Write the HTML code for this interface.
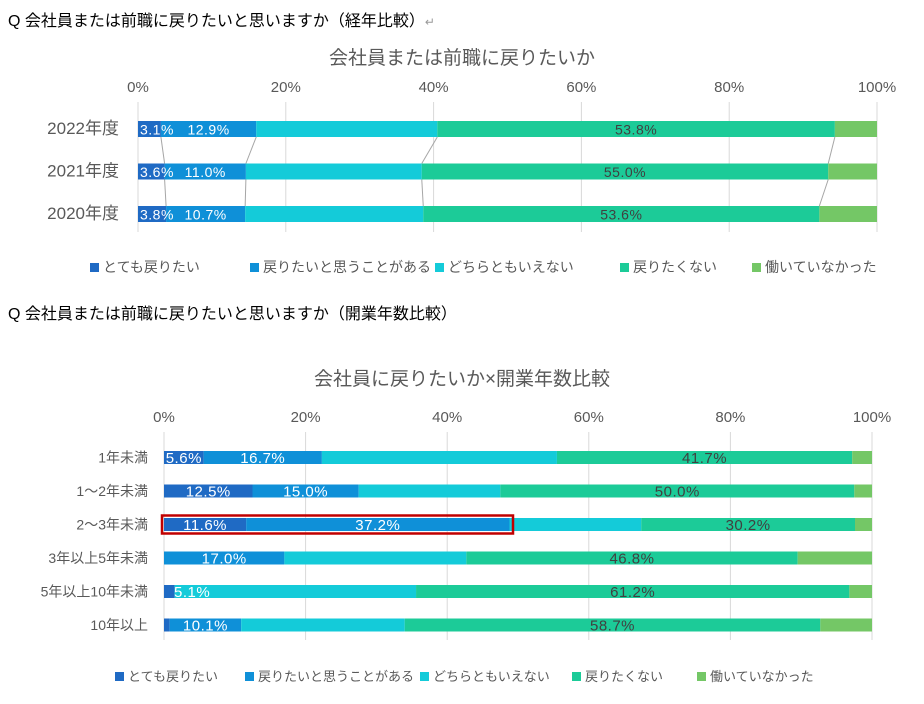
<!DOCTYPE html>
<html><head><meta charset="utf-8"><style>
body{margin:0;background:#fff;width:924px;height:699px;overflow:hidden;font-family:"Liberation Sans","Noto Sans CJK JP",sans-serif}
svg text{font-family:"Liberation Sans","Noto Sans CJK JP",sans-serif}
</style></head><body>
<svg id="s" width="924" height="699">
<text x="8" y="26" font-size="16" fill="#000">Q  会社員または前職に戻りたいと思いますか（経年比較）<tspan fill="#999" font-size="12">↵</tspan></text>
<text x="462" y="64" font-size="19" fill="#595959" text-anchor="middle">会社員または前職に戻りたいか</text>
<text x="8" y="319" font-size="16" fill="#000">Q  会社員または前職に戻りたいと思いますか（開業年数比較）</text>
<text x="462" y="385" font-size="19" fill="#595959" text-anchor="middle">会社員に戻りたいか×開業年数比較</text>
<g id="c1"></g><g id="c2"></g>
</svg>
<script>
const series=["とても戻りたい","戻りたいと思うことがある","どちらともいえない","戻りたくない","働いていなかった"];
const colors=["#1f6ac4","#0f90d8","#14cbd9","#1ccb98","#74c766"];
const ticks=["0%","20%","40%","60%","80%","100%"];
const tickVals=[0,20,40,60,80,100];
const cat1=["2022年度","2021年度","2020年度"];
const c1v0=[3.1,3.6,3.8];
const c1v1=[12.9,11.0,10.7];
const c1v2=[24.5,23.8,24.1];
const c1v3=[53.8,55.0,53.6];
const c1v4=[5.7,6.6,7.8];
const cat2=["1年未満","1～2年未満","2～3年未満","3年以上5年未満","5年以上10年未満","10年以上"];
const c2v0=[5.6,12.5,11.6,0,1.5,0.8];
const c2v1=[16.7,15.0,37.2,17.0,0,10.1];
const c2v2=[33.2,20.0,18.6,25.7,34.1,23.1];
const c2v3=[41.7,50.0,30.2,46.8,61.2,58.7];
const c2v4=[2.8,2.5,2.4,10.5,3.2,7.3];
const c2lab0=["5.6%","12.5%","11.6%","","5.1%",""];
const NS="http://www.w3.org/2000/svg";
function mk(p,t,a){const e=document.createElementNS(NS,t);for(const k in a)e.setAttribute(k,a[k]);p.appendChild(e);return e;}
function draw(g,cfg){
 const X=v=>cfg.x0+v/100*(cfg.x1-cfg.x0);
 const Y=i=>cfg.y0+i*cfg.step;
 const pending=[];
 tickVals.forEach((v,i)=>{
  const l=mk(g,"line",{x1:X(v),x2:X(v),y1:cfg.gTop,y2:cfg.gBot,stroke:"#d9d9d9"});
  
  
  const t=mk(g,"text",{x:X(v),y:cfg.tickY,"font-size":15,fill:"#595959","text-anchor":"middle"});t.textContent=ticks[i];
  
  
 });
 cfg.cats.forEach((c,i)=>{
  const t=mk(g,"text",{x:cfg.catX,y:Y(i)+cfg.bh/2+5,"font-size":cfg.catFs,fill:"#595959","text-anchor":"end"});t.textContent=c;
  
  
  let acc=0;
  cfg.vals.forEach((arr,s)=>{
   const v=arr[i];
   const r=mk(g,"rect",{x:X(acc),y:Y(i),width:X(acc+v)-X(acc),height:cfg.bh,fill:colors[s]});
   
   
   let lab=cfg.labels(s,i,v);
   if(s===4) lab="";
   if(lab){
    let cx=X(acc+v/2), anchor="middle";
    const tw=lab.length*cfg.lfs*0.56;
    if(s===0 && X(acc+v)-X(acc)<tw+4){cx=X(0)+2+(cfg.pad||0);anchor="start";}
    if(s===1 && cfg.shift1) cx=Math.max(cx,cfg.shift1(i,X));
    pending.push({x:cx,y:Y(i)+cfg.bh/2+cfg.lfs*0.38,fill:s<2?"#fff":"#404040",anchor,lab});
   }
   acc+=v;
  });
 });
 pending.forEach(p=>{
  const tt=mk(g,"text",{x:p.x,y:p.y,"font-size":cfg.lfs,fill:p.fill,"text-anchor":p.anchor,"letter-spacing":"0.5"});tt.textContent=p.lab;
  
  
 });
 series.forEach((n,i)=>{
  const lx=cfg.legX[i];
  const r=mk(g,"rect",{x:lx,y:cfg.legY-9,width:9,height:9,fill:colors[i]});
  
  
  const t=mk(g,"text",{x:lx+13,y:cfg.legY,"font-size":cfg.legFs,fill:"#595959"});t.textContent=n;
  
  
 });
}
const c1=document.getElementById("c1");
draw(c1,{x0:138,x1:877,y0:121,step:42.5,bh:16,gTop:102,gBot:232,tickY:92,cats:cat1,catX:119,catFs:17,lfs:14,legFs:14,
 vals:[c1v0,c1v1,c1v2,c1v3,c1v4],labels:(s,i,v)=>(s===2?"":v.toFixed(1)+"%"),
 shift1:(i,X)=>X(0)+62,
 legX:[90,250,435,620,752],legY:272});
[[0],[0,1],[0,1,2],[0,1,2,3]].forEach(ss=>{
 const X=v=>138+v/100*739;
 for(let i=0;i<2;i++){
  const a=ss.reduce((p,s)=>p+[c1v0,c1v1,c1v2,c1v3][s][i],0), b=ss.reduce((p,s)=>p+[c1v0,c1v1,c1v2,c1v3][s][i+1],0);
  const l=mk(c1,"line",{x1:X(a),y1:121+i*42.5+16,x2:X(b),y2:121+(i+1)*42.5,stroke:"#a6a6a6"});
  
  
 }
});
const c2=document.getElementById("c2");
draw(c2,{x0:164,x1:872,y0:451,step:33.5,bh:13,gTop:432,gBot:640,tickY:422,cats:cat2,catX:148,catFs:14,lfs:15,legFs:13,pad:8,
 vals:[c2v0,c2v1,c2v2,c2v3,c2v4],labels:(s,i,v)=>(s===0?c2lab0[i]:(s===2||!v)?"":v.toFixed(1)+"%"),legX:[115,245,420,572,697],legY:681});
const hl=mk(c2,"rect",{x:162,y:515.5,width:351,height:18,fill:"none",stroke:"#c00000","stroke-width":2.5});


</script>
</body></html>
